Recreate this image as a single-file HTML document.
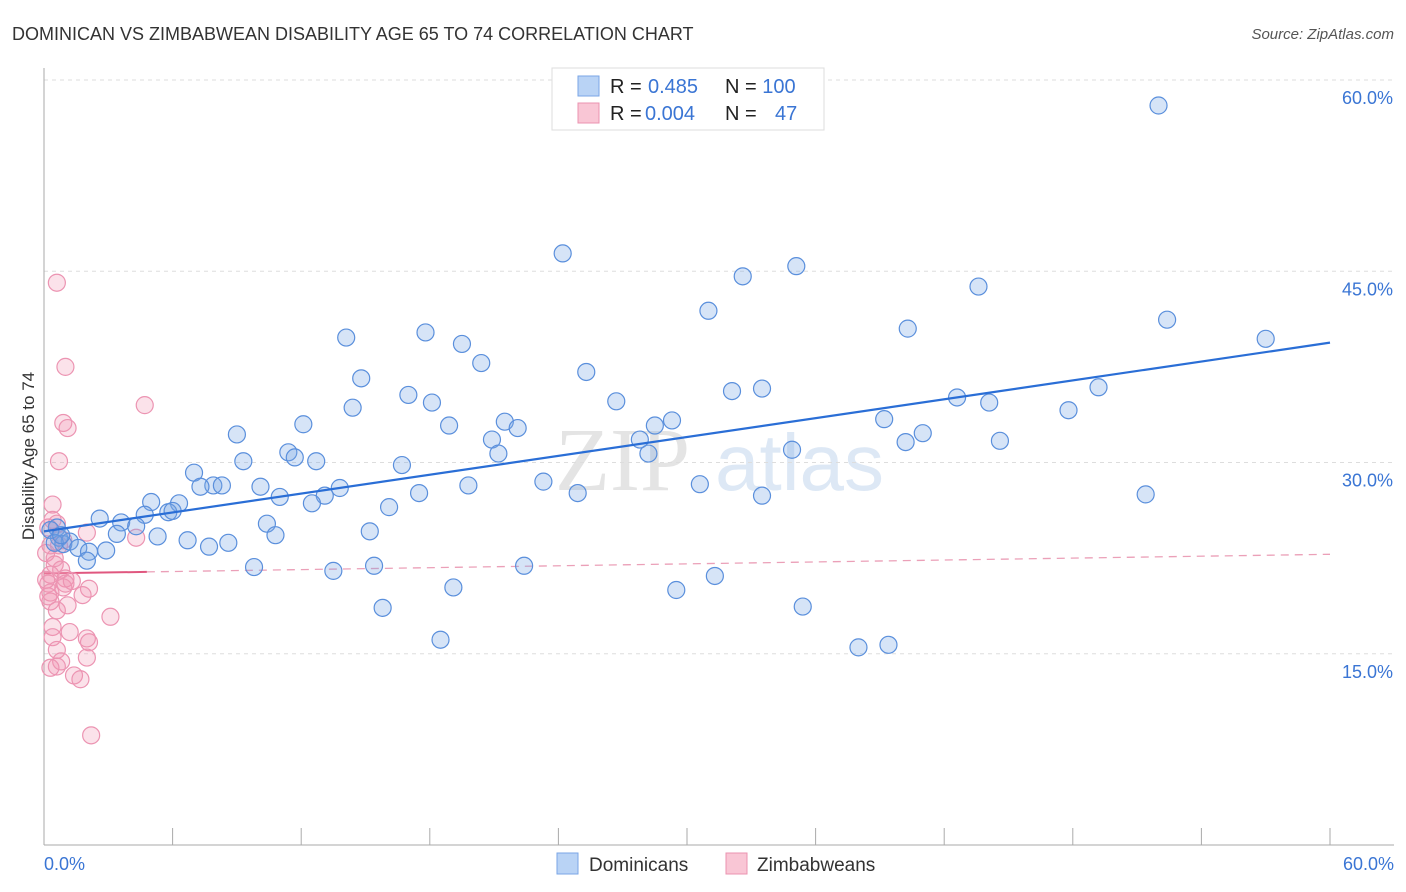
<!DOCTYPE html>
<html><head><meta charset="utf-8"><style>
body{margin:0;background:#fff;font-family:"Liberation Sans",sans-serif;}
svg{display:block}
</style></head><body>
<svg id="chart" width="1406" height="892" xmlns="http://www.w3.org/2000/svg">
<text x="12" y="40" font-size="18" fill="#333">DOMINICAN VS ZIMBABWEAN DISABILITY AGE 65 TO 74 CORRELATION CHART</text>
<text x="1394" y="39" font-size="15" fill="#555" text-anchor="end" font-style="italic">Source: ZipAtlas.com</text>
<text x="555" y="490" font-size="90" fill="#e4e4e4" font-family="Liberation Serif,serif">ZIP</text>
<text x="715" y="490" font-size="80" fill="#dde8f5">atlas</text>
<g id="grid"></g>
<g id="axes"></g>
<g id="trend"></g>
<g id="pts"></g>
<text transform="translate(34,456) rotate(-90)" font-size="17" fill="#333" text-anchor="middle">Disability Age 65 to 74</text>
<text x="44" y="870" font-size="18" fill="#3a75d4">0.0%</text>
<text x="1394" y="870" font-size="18" fill="#3a75d4" text-anchor="end">60.0%</text>
<g>
<rect x="552" y="68" width="272" height="62" fill="#fff" stroke="#ddd"/>
<rect x="578" y="76" width="21" height="20" fill="#b9d3f5" stroke="#7aa6e6"/>
<rect x="578" y="103" width="21" height="20" fill="#f9c6d5" stroke="#eb93b0"/>
<text x="610" y="93" font-size="20" fill="#222">R = <tspan fill="#3a75d4" x="648">0.485</tspan><tspan x="725">N = </tspan><tspan fill="#3a75d4">100</tspan></text>
<text x="610" y="120" font-size="20" fill="#222">R = <tspan fill="#3a75d4" x="645">0.004</tspan><tspan x="725">N = </tspan><tspan fill="#3a75d4" x="775">47</tspan></text>
</g>
<g>
<rect x="557" y="853" width="21" height="21" fill="#b9d3f5" stroke="#7aa6e6"/>
<text x="589" y="871" font-size="19" fill="#333">Dominicans</text>
<rect x="726" y="853" width="21" height="21" fill="#f9c6d5" stroke="#eb93b0"/>
<text x="757" y="871" font-size="19" fill="#333">Zimbabweans</text>
</g>
</svg>
<script>
const yTicks=[15,30,45,60];
const yTickLabels=["15.0%","30.0%","45.0%","60.0%"];
const xTicks=[6,12,18,24,30,36,42,48,54,60];
const domX=[52.0,24.2,35.1,32.6,43.6,31.0,52.4,40.3,57.0,14.1,17.8,19.5,20.4,14.8,25.3,32.1,33.5,49.2,17.0,18.1,14.4,26.7,42.6,44.1,47.8,18.9,21.5,22.1,28.5,29.3,39.2,12.1,9.0,20.9,27.8,41.0,40.2,44.6,11.4,11.7,12.7,9.3,21.2,28.2,34.9,16.7,7.0,7.9,7.3,8.3,23.3,19.8,30.6,10.1,13.8,13.1,11.0,12.5,17.5,24.9,33.5,51.4,5.0,6.3,5.8,6.0,16.1,4.7,2.6,3.6,4.3,10.4,3.4,5.3,6.7,10.8,15.2,8.6,7.7,0.6,0.7,0.9,1.2,1.6,2.1,2.9,2.0,9.8,13.5,15.4,22.4,31.3,19.1,29.5,15.8,35.4,18.5,38.0,39.4,0.3,0.5,0.8];
const domY=[58.0,46.4,45.4,44.6,43.8,41.9,41.2,40.5,39.7,39.8,40.2,39.3,37.8,36.6,37.1,35.6,35.8,35.9,35.3,34.7,34.3,34.8,35.1,34.7,34.1,32.9,33.2,32.7,32.9,33.3,33.4,33.0,32.2,31.8,31.8,32.3,31.6,31.7,30.8,30.4,30.1,30.1,30.7,30.7,31.0,29.8,29.2,28.2,28.1,28.2,28.5,28.2,28.3,28.1,28.0,27.4,27.3,26.8,27.6,27.6,27.4,27.5,26.9,26.8,26.1,26.2,26.5,25.9,25.6,25.3,25.0,25.2,24.4,24.2,23.9,24.3,24.6,23.7,23.4,24.9,24.1,23.6,23.8,23.3,23.0,23.1,22.3,21.8,21.5,21.9,21.9,21.1,20.2,20.0,18.6,18.7,16.1,15.5,15.7,24.7,23.7,24.3];
const zimX=[0.6,1.0,4.7,0.9,1.1,0.7,0.4,0.4,0.6,0.2,2.0,4.3,0.3,0.1,0.5,0.8,0.3,1.0,1.0,0.2,0.9,2.1,1.8,0.3,0.3,1.1,3.1,0.4,1.2,0.4,2.0,2.1,0.6,2.0,0.8,0.6,0.3,1.4,1.7,2.2,0.1,0.7,0.5,1.3,0.2,0.6,0.9];
const zimY=[44.1,37.5,34.5,33.1,32.7,30.1,26.7,25.5,25.2,24.9,24.5,24.1,23.5,22.9,22.0,21.6,21.2,20.9,20.5,20.5,20.2,20.1,19.6,19.8,19.1,18.8,17.9,17.1,16.7,16.3,16.2,15.9,15.3,14.7,14.4,14.0,13.9,13.3,13.0,8.6,20.8,23.5,22.5,20.7,19.5,18.4,23.9];
const domTrend=[24.6,39.4];
const zimTrend=[21.3,22.8];
const zimSolidEnd=4.8;

const NS="http://www.w3.org/2000/svg";
const X0=44,X1=1330,Y0=845,Y1=80;
const sx=v=>X0+v/60*(X1-X0);
const sy=v=>Y0-v/60*(Y0-Y1);
function mk(t,a,p){const e=document.createElementNS(NS,t);for(const k in a)e.setAttribute(k,a[k]);p.appendChild(e);return e;}
const grid=document.getElementById('grid'),axes=document.getElementById('axes'),tr=document.getElementById('trend'),pts=document.getElementById('pts');
yTicks.forEach((v,i)=>{
 const l=mk('line',{x1:X0,x2:1394,y1:sy(v),y2:sy(v),stroke:'#ddd','stroke-dasharray':'4,4'},grid);
 
 
 const t=mk('text',{x:1393,y:sy(v)+24,'font-size':18,fill:'#3a75d4','text-anchor':'end'},grid);
 t.textContent=yTickLabels[i];
 
 
});
const ya=mk('line',{x1:X0,x2:X0,y1:68,y2:Y0,stroke:'#aaa'},axes);


const xa=mk('line',{x1:X0,x2:1394,y1:Y0,y2:Y0,stroke:'#aaa'},axes);


xTicks.forEach(v=>{
 const t=mk('line',{x1:sx(v),x2:sx(v),y1:828,y2:Y0,stroke:'#aaa'},axes);
 
 
});
zimX.forEach((v,i)=>{
 const c=mk('circle',{cx:sx(v),cy:sy(zimY[i]),r:8.5,fill:'rgba(242,150,180,0.28)',stroke:'#ec94b2','stroke-width':1.2},pts);
 
 
});
domX.forEach((v,i)=>{
 const c=mk('circle',{cx:sx(v),cy:sy(domY[i]),r:8.5,fill:'rgba(120,165,230,0.3)',stroke:'#5a8fdc','stroke-width':1.2},pts);
 
 
});
const zs=zimTrend[0]+(zimTrend[1]-zimTrend[0])*zimSolidEnd/60;
const zd=mk('line',{x1:sx(zimSolidEnd),y1:sy(zs),x2:sx(60),y2:sy(zimTrend[1]),stroke:'#eba0b8','stroke-width':1.3,'stroke-dasharray':'8,6'},tr);


const zl=mk('line',{x1:sx(0),y1:sy(zimTrend[0]),x2:sx(zimSolidEnd),y2:sy(zs),stroke:'#e0577f','stroke-width':2},tr);


const dl=mk('line',{x1:sx(0),y1:sy(domTrend[0]),x2:sx(60),y2:sy(domTrend[1]),stroke:'#2a6ed6','stroke-width':2.2},pts);


</script>
</body></html>
